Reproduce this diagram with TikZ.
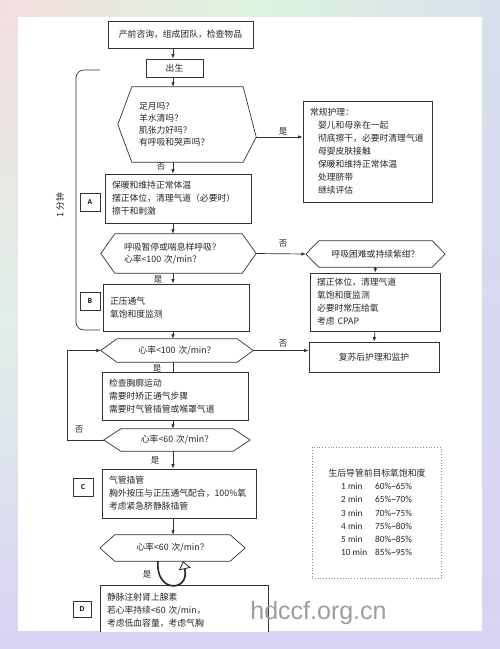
\documentclass[tikz,border=0pt]{standalone}
\usepackage{fontspec}
\setmainfont{Carlito}
\newfontfamily\cjk{Noto Sans CJK SC}
\newfontfamily\wmfont{Liberation Sans}
\usetikzlibrary{arrows.meta}
\definecolor{bgPink}{HTML}{F3DEDF}
\definecolor{bgGreen}{HTML}{DDF4DE}
\definecolor{bgTeal}{HTML}{E0EFE8}
\definecolor{bgBlue}{HTML}{D6E0EC}
\definecolor{bgLav}{HTML}{D9D2F4}
\newcommand\hexfor[2]{\draw[ln] ([xshift=#2]#1.north west) -- ([xshift=-#2]#1.north east) -- (#1.east) -- ([xshift=-#2]#1.south east) -- ([xshift=#2]#1.south west) -- (#1.west) -- cycle;}
\begin{document}
\begin{tikzpicture}[x=1pt,y=-1pt,
 ln/.style={draw=black!80, line width=0.7pt},
 arr/.style={ln, -{Latex[length=4.5pt,width=3.6pt]}},
 bx/.style={draw=black!80, line width=0.7pt, fill=white, inner xsep=7pt, inner ysep=0pt, align=left, font=\cjk\fontsize{8.8}{13}\selectfont, text=black!85},
 hx/.style={inner xsep=0pt, inner ysep=0pt, align=center, font=\cjk\fontsize{8.8}{12}\selectfont, text=black!85},
 lab/.style={draw=black!80, line width=0.7pt, inner sep=0pt, minimum width=20pt, minimum height=18pt, font=\bfseries\fontsize{7.5}{9}\selectfont},
 yn/.style={font=\cjk\fontsize{8.5}{10}\selectfont, inner sep=0pt, text=black!85},
 tb/.style={font=\fontsize{9.3}{10}\selectfont, inner sep=0pt, anchor=base west, text=black!85},
]
\useasboundingbox (0,0) rectangle (500,649);
% background
\fill[bgLav] (0,0) rectangle (500,649);
\shade[top color=bgPink, bottom color=bgLav, middle color=bgTeal] (0,0) rectangle (18,649);
\shade[top color=bgBlue, bottom color=bgLav] (482,0) rectangle (500,649);
\shade[left color=bgPink, right color=bgBlue, middle color=bgGreen] (0,0) rectangle (500,17);
\fill[white] (18,17) rectangle (482,631);

\coordinate (col) at (173,0);

\begin{scope}
\clip (18,17) rectangle (482,631);
% top
\node[bx, align=center, text width=131pt, minimum height=27pt] (top) at (180.5,34.5) {产前咨询，组成团队，检查物品};
\node[bx, align=center, text width=43pt, minimum height=18pt] (birth) at (174.5,68) {出生};
% hex 1
\node[hx, align=left, inner xsep=21pt, text width=96pt, minimum height=75pt] (h1) at (187,124.5) {足月吗？\\羊水清吗？\\肌张力好吗？\\有呼吸和哭声吗？};
\coordinate (h1e) at ([yshift=-12.5pt]h1.east);
\draw[ln] ([xshift=14pt]h1.north west) -- ([xshift=-13pt]h1.north east) -- (h1e) -- ([xshift=-13pt]h1.south east) -- ([xshift=14pt]h1.south west) -- (h1.west) -- cycle;
% routine care
\node[bx, text width=115pt, minimum height=101pt] (care) at (367.5,151.5) {常规护理：\\\hspace*{8pt}婴儿和母亲在一起\\\hspace*{8pt}彻底擦干，必要时清理气道\\\hspace*{8pt}母婴皮肤接触\\\hspace*{8pt}保暖和维持正常体温\\\hspace*{8pt}处理脐带\\\hspace*{8pt}继续评估};
% A
\node[bx, text width=132pt, minimum height=49pt] (A) at (178,198.5) {保暖和维持正常体温\\摆正体位，清理气道（必要时）\\擦干和刺激};
\node[lab] (la) at (90,202) {A};
% hex 2
\node[hx, align=left, inner xsep=23pt, text width=109pt, minimum height=39pt] (h2) at (178.5,253.5) {呼吸暂停或喘息样呼吸？\\心率<100 次/min？};
\hexfor{h2}{14pt}
% hex 3
\node[hx, text width=139pt, minimum height=26pt] (h3) at (375.5,254) {呼吸困难或持续紫绀？};
\hexfor{h3}{13pt}
% right box 2
\node[bx, text width=116pt, minimum height=58pt] (r2) at (375,302) {摆正体位，清理气道\\氧饱和度监测\\必要时常压给氧\\考虑 CPAP};
\node[bx, align=center, text width=116pt, minimum height=30pt] (recov) at (374,357) {复苏后护理和监护};
% B
\node[bx, text width=132pt, minimum height=47pt] (B) at (176,307.5) {正压通气\\氧饱和度监测};
\node[lab] (lb) at (90,301.5) {B};
% hex 4
\node[hx, text width=152pt, minimum height=23pt] (h4) at (177,350.5) {心率<100 次/min？};
\hexfor{h4}{16pt}
% check
\node[bx, text width=132pt, minimum height=48pt] (chk) at (175,396) {检查胸廓运动\\需要时矫正通气步骤\\需要时气管插管或喉罩气道};
% hex 5
\node[hx, text width=146pt, minimum height=22pt] (h5) at (177,440) {心率<60 次/min？};
\hexfor{h5}{17pt}
% C
\node[bx, text width=140pt, minimum height=49pt] (C) at (179,493.5) {气管插管\\胸外按压与正压通气配合，100\%氧\\考虑紧急脐静脉插管};
\node[lab] (lc) at (83,487) {C};
% hex 6
\node[hx, text width=145pt, minimum height=26pt] (h6) at (172.5,548) {心率<60 次/min？};
\hexfor{h6}{15pt}
% D
\node[bx, text width=154pt, minimum height=51pt] (D) at (184,610.5) {静脉注射肾上腺素\\若心率持续<60 次/min，\\考虑低血容量，考虑气胸};
\node[lab, minimum width=18pt, minimum height=16pt] (ld) at (82,609) {D};

% saturation table
\node[draw=black!45, dotted, line width=0.8pt, minimum width=129pt, minimum height=131pt] (tbl) at (376.5,512.5) {};
\node[font=\cjk\fontsize{8.8}{10}\selectfont, inner sep=0pt, text=black!85] (tt) at (377,473) {生后导管前目标氧饱和度};
\node[tb] (t1a) at (341,489) {1 min};   \node[tb] (t1b) at (375,489) {60\%\textasciitilde65\%};
\node[tb] (t2a) at (341,502) {2 min};   \node[tb] (t2b) at (375,502) {65\%\textasciitilde70\%};
\node[tb] (t3a) at (341,516) {3 min};   \node[tb] (t3b) at (375,516) {70\%\textasciitilde75\%};
\node[tb] (t4a) at (341,529) {4 min};   \node[tb] (t4b) at (375,529) {75\%\textasciitilde80\%};
\node[tb] (t5a) at (341,542) {5 min};   \node[tb] (t5b) at (375,542) {80\%\textasciitilde85\%};
\node[tb] (t6a) at (341,555) {10 min};  \node[tb] (t6b) at (375,555) {85\%\textasciitilde95\%};

% connectors
\draw[arr] (top.south -| col) -- (birth.north -| col);
\draw[arr] (birth.south -| col) -- (h1.north -| col);
\draw[arr] (h1e) -- (h1e -| care.west);
\draw[arr] (h1.south -| col) -- (A.north -| col);
\draw[arr] (A.south -| col) -- (h2.north -| col);
\draw[arr] (h2.east) -- (h3.west);
\draw[arr] (h3.south) -- (r2.north);
\draw[arr] (r2.south) -- (recov.north);
\draw[arr] (h2.south -| col) -- (B.north -| col);
\draw[arr] (B.south -| col) -- (h4.north -| col);
\draw[arr] (h4.east) -- (h4.east -| recov.west);
\draw[ln] (h4.south -| col) -- (chk.north -| col);
\draw[arr] (chk.south -| col) -- (h5.north -| col);
\draw[arr] (h5.west) -- ++(-36,0) |- (h4.west);
\draw[arr] (h5.south -| col) -- (C.north -| col);
\draw[arr] (C.south -| col) -- (h6.north -| col);
\draw[draw=black!85, line width=1.6pt, -{Triangle[open, length=8pt, width=12pt, line width=0.8pt]}]
  ([xshift=-14.5pt]h6.south) .. controls +(-3,32) and +(7,31) .. ([xshift=10.5pt]h6.south);

% yes/no labels
\node[yn] (y1) at (283,131) {是};
\node[yn] (n1) at (161,167) {否};
\node[yn] (n2) at (283,244) {否};
\node[yn] (y2) at (158,279) {是};
\node[yn] (n3) at (283,344) {否};
\node[yn] (y3) at (157,368) {是};
\node[yn] (n4) at (79,430) {否};
\node[yn] (y4) at (155,460) {是};
\node[yn] (y5) at (147,574) {是};

% bracket
\coordinate (bt) at (100,70);
\coordinate (bb) at (100,330);
\draw[ln, rounded corners=8pt] (bt) -- (76,70) -- (76,330) -- (bb);
\node[rotate=90, font=\cjk\fontsize{8.8}{10}\selectfont, inner sep=0pt, text=black!85] (onemin) at (60,205) {1 分钟};
\end{scope}

% watermark
\node[font=\wmfont\fontsize{25}{25}\selectfont, text=black!38, inner sep=0pt] (wm) at (318.5,613) {hdccf.org.cn};
\end{tikzpicture}
\end{document}
